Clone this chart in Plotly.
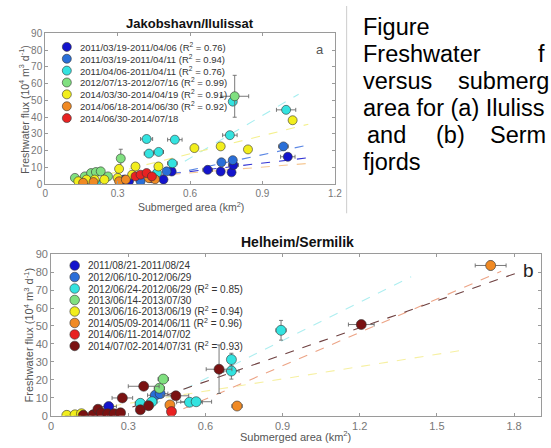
import plotly.graph_objects as go

W, H = 551, 448
FONT = "Liberation Sans, Arial, sans-serif"

# ---------------- Panel a: Jakobshavn/Ilulissat ----------------
a_names = [
    "2011/03/19-2011/04/06 (R<sup>2</sup> = 0.76)",
    "2011/03/19-2011/04/11 (R<sup>2</sup> = 0.94)",
    "2011/04/06-2011/04/11 (R<sup>2</sup> = 0.76)",
    "2012/07/13-2012/07/16 (R<sup>2</sup> = 0.99)",
    "2014/03/30-2014/04/19 (R<sup>2</sup> = 0.91)",
    "2014/06/18-2014/06/30 (R<sup>2</sup> = 0.92)",
    "2014/06/30-2014/07/18",
]
a_colors = ["#1414cc", "#2a6fd8", "#33e3e0", "#80e080", "#f2ee1c", "#f08a24", "#e82222"]

a1_x = [0.327, 0.347, 0.44, 0.49, 0.524, 0.673, 0.727, 0.772, 0.78, 1.005]
a1_y = [2.7, 1.7, 3.5, 2.7, 7.5, 8.5, 7.5, 7.0, 11.4, 16.3]
a1_xerr = [0, 0, 0, 0, 0, 0.02, 0, 0, 0.02, 0.03]
a1_yerr = [0, 0, 0, 0, 0, 0, 0, 0, 0, 0]

a2_x = [0.395, 0.45, 0.503, 0.73, 0.777, 0.987]
a2_y = [1.7, 4.0, 7.6, 13.0, 14.3, 22.5]
a2_xerr = [0, 0, 0, 0, 0, 0.02]
a2_yerr = [0, 0, 0, 0, 0, 0]

a3_x = [0.21, 0.463, 0.527, 0.43, 0.47, 0.42, 0.537, 0.765, 0.777, 0.998]
a3_y = [0.8, 6.6, 12.4, 18.2, 19.2, 26.9, 26.5, 29.2, 49.2, 44.3]
a3_xerr = [0, 0, 0.02, 0.02, 0.02, 0.025, 0.03, 0.03, 0, 0.04]
a3_yerr = [0, 0, 0, 0, 0, 0, 0, 0, 0, 0]

a4_x = [0.123, 0.164, 0.19, 0.21, 0.23, 0.26, 0.313, 0.785]
a4_y = [3.7, 4.6, 6.6, 7.2, 7.6, 4.6, 15.3, 52.4]
a4_xerr = [0, 0, 0, 0, 0, 0, 0, 0.058]
a4_yerr = [0, 0, 0, 0, 0, 0, 5.5, 12.5]

a5_x = [0.137, 0.171, 0.205, 0.245, 0.30, 0.36, 0.306, 0.374, 0.469, 0.618, 0.727, 0.84, 1.025]
a5_y = [1.7, 2.7, 2.7, 2.7, 3.7, 5.6, 9.1, 10.5, 10.5, 21.5, 22.5, 20.7, 38.1]
a5_xerr = [0] * 13
a5_yerr = [0] * 13

a6_x = [0.157, 0.20, 0.306, 0.334, 0.43, 0.455]
a6_y = [0.8, 1.2, 1.7, 2.7, 3.5, 2.9]
a6_xerr = [0] * 6
a6_yerr = [0] * 6

a7_x = [0.374, 0.395, 0.42, 0.442]
a7_y = [4.6, 5.6, 6.6, 4.6]
a7_xerr = [0] * 4
a7_yerr = [0] * 4

# regression lines (slope, intercept, x-start, x-end)
a_fit_slope = [16.8, 30.7, 84.8, None, 36.0, 11.5, None]
a_fit_icpt = [-2.6, -10.1, -35.4, None, -3.5, -0.2, None]
a_fit_x0 = [0.45, 0.45, 0.45, None, 0.13, 0.15, None]
a_fit_x1 = [1.09, 1.09, 1.05, None, 1.09, 1.09, None]
a_fit_colors = ["#3434d4", "#5a86e4", "#a6eef0", None, "#f4f08e", "#f6c894", None]

a_xticks = [0, 0.3, 0.6, 0.9, 1.2]
a_xticklabels = ["0", "0.3", "0.6", "0.9", "1.2"]
a_yticks = [0, 10, 20, 30, 40, 50, 60, 70, 80, 90]
a_yticklabels = ["0", "10", "20", "30", "40", "50", "60", "70", "80", "90"]

# ---------------- Panel b: Helheim/Sermilik ----------------
b_names = [
    "2011/08/21-2011/08/24",
    "2012/06/10-2012/06/29",
    "2012/06/24-2012/06/29 (R<sup>2</sup> = 0.85)",
    "2013/06/14-2013/07/30",
    "2013/06/16-2013/06/19 (R<sup>2</sup> = 0.94)",
    "2014/05/09-2014/06/11 (R<sup>2</sup> = 0.96)",
    "2014/06/11-2014/07/02",
    "2014/07/02-2014/07/31 (R<sup>2</sup> = 0.93)",
]
b_colors = ["#1414cc", "#2a6fd8", "#33e3e0", "#80e080", "#f2ee1c", "#f08a24", "#e82222", "#7a1212"]

b1_x = [0.224]
b1_y = [5.1]
b1_xerr = [0.03]
b1_yerr = [1.5]

b2_x = [0.405, 0.424]
b2_y = [11.4, 12.3]
b2_xerr = [0.03, 0.03]
b2_yerr = [0, 0]

b3_x = [0.347, 0.392, 0.538, 0.564, 0.701, 0.701, 0.894]
b3_y = [6.9, 7.8, 7.5, 7.8, 31.3, 24.9, 47.6]
b3_xerr = [0.02, 0.02, 0.05, 0.06, 0, 0.03, 0.02]
b3_yerr = [0, 0, 0, 0, 3.5, 4.5, 5.5]

b4_x = [0.421, 0.436]
b4_y = [15.3, 20.4]
b4_xerr = [0.02, 0.02]
b4_yerr = [0, 0]

b5_x = [0.061, 0.093, 0.118]
b5_y = [0.2, 0.5, 1.1]
b5_xerr = [0, 0, 0]
b5_yerr = [0, 0, 0]

b6_x = [0.462, 0.723, 1.709]
b6_y = [6.0, 5.4, 83.7]
b6_xerr = [0, 0.02, 0.06]
b6_yerr = [0, 0, 2.5]

b7_x = [0.468]
b7_y = [2.3]
b7_xerr = [0]
b7_yerr = [0]

b8_x = [0.125, 0.163, 0.182, 0.195, 0.22, 0.245, 0.27, 0.277, 0.347, 0.36, 0.379, 0.485, 0.653, 1.206]
b8_y = [0.2, 0.5, 3.6, 1.5, 1.1, 1.1, 1.6, 9.9, 3.3, 16.4, 5.6, 11.1, 25.9, 50.8]
b8_xerr = [0, 0, 0, 0, 0, 0, 0, 0.04, 0, 0.06, 0, 0.05, 0.05, 0.05]
b8_yerr = [0, 0, 0, 0, 0, 0, 0, 0, 0, 0, 0, 0, 13.5, 0]

b_fit_slope = [None, None, 71.0, None, 22.8, 62.0, None, 50.0]
b_fit_icpt = [None, None, -22.0, None, 0.0, -28.0, None, -11.0]
b_fit_x0 = [None, None, 0.33, None, 0.10, 0.45, None, 0.25]
b_fit_x1 = [None, None, 1.40, None, 1.60, 1.75, None, 1.81]
b_fit_colors = [None, None, "#aeeef0", None, "#f6f0a2", "#eca486", None, "#6e4040"]

b_xticks = [0, 0.3, 0.6, 0.9, 1.2, 1.5, 1.8]
b_xticklabels = ["0", "0.3", "0.6", "0.9", "1.2", "1.5", "1.8"]
b_yticks = [0, 10, 20, 30, 40, 50, 60, 70, 80, 90]
b_yticklabels = ["0", "10", "20", "30", "40", "50", "60", "70", "80", "90"]

# caption lines (justified words, cut at the page edge as in the source)
caption_words = [
    ["Figure"],
    ["Freshwater", "f"],
    ["versus", "submerg"],
    ["area for (a) Iluliss"],
    ["and", "(b)", "Serm"],
    ["fjords"],
]

a_series = [(a1_x, a1_y, a1_xerr, a1_yerr), (a2_x, a2_y, a2_xerr, a2_yerr),
            (a3_x, a3_y, a3_xerr, a3_yerr), (a4_x, a4_y, a4_xerr, a4_yerr),
            (a5_x, a5_y, a5_xerr, a5_yerr), (a6_x, a6_y, a6_xerr, a6_yerr),
            (a7_x, a7_y, a7_xerr, a7_yerr)]
b_series = [(b1_x, b1_y, b1_xerr, b1_yerr), (b2_x, b2_y, b2_xerr, b2_yerr),
            (b3_x, b3_y, b3_xerr, b3_yerr), (b4_x, b4_y, b4_xerr, b4_yerr),
            (b5_x, b5_y, b5_xerr, b5_yerr), (b6_x, b6_y, b6_xerr, b6_yerr),
            (b7_x, b7_y, b7_xerr, b7_yerr), (b8_x, b8_y, b8_xerr, b8_yerr)]


def px(x):
    return x / W


def py(y):
    return 1 - y / H


fig = go.Figure()


def add_panel(series, names, colors, slopes, icpts, x0s, x1s, fcolors, xa, ya, msize):
    for m, b, x0, x1, c in zip(slopes, icpts, x0s, x1s, fcolors):
        if m is None:
            continue
        fig.add_trace(go.Scatter(
            x=[x0, x1], y=[m * x0 + b, m * x1 + b], mode="lines",
            line=dict(color=c, width=1.1, dash="dash"),
            xaxis=xa, yaxis=ya, hoverinfo="skip", showlegend=False))
    for (xs, ys, xe, ye), name, col in zip(series, names, colors):
        fig.add_trace(go.Scatter(
            x=xs, y=ys, mode="markers", name=name,
            marker=dict(size=msize, color=col, line=dict(color="#333333", width=0.6)),
            error_x=dict(type="data", array=xe, color="#6a6a6a", thickness=0.9, width=2),
            error_y=dict(type="data", array=ye, color="#6a6a6a", thickness=0.9, width=2),
            xaxis=xa, yaxis=ya, showlegend=False))


add_panel(a_series, a_names, a_colors, a_fit_slope, a_fit_icpt, a_fit_x0, a_fit_x1,
          a_fit_colors, "x", "y", 9)
add_panel(b_series, b_names, b_colors, b_fit_slope, b_fit_icpt, b_fit_x0, b_fit_x1,
          b_fit_colors, "x2", "y2", 10)


def axis(domain, rng, anchor, tv, tt, size):
    return dict(domain=domain, range=rng, anchor=anchor, tickvals=tv, ticktext=tt,
                showline=True, linecolor="#9a9a9a", linewidth=1, mirror="ticks",
                ticks="inside", ticklen=3, tickcolor="#9a9a9a", showgrid=False,
                zeroline=False, tickfont=dict(family=FONT, color="#777777", size=size))


fig.update_layout(
    width=W, height=H, margin=dict(l=0, r=0, t=0, b=0),
    paper_bgcolor="white", plot_bgcolor="white", showlegend=False,
    font=dict(family=FONT, size=10),
    xaxis=axis([px(43), px(338)], [0, 1.2], "y", a_xticks, a_xticklabels, 10),
    yaxis=axis([py(183), py(28)], [0, 90], "x", a_yticks, a_yticklabels, 10),
    xaxis2=axis([px(49), px(548)], [0, 1.905], "y2", b_xticks, b_xticklabels, 11),
    yaxis2=axis([py(421), py(255)], [0, 90], "x2", b_yticks, b_yticklabels, 11),
)

ann = []
shapes = []


def text(x, y, s, size, color="#333333", xanchor="left", angle=0):
    ann.append(dict(x=px(x), y=py(y), xref="paper", yref="paper", text=s, showarrow=False,
                    xanchor=xanchor, yanchor="middle", textangle=angle,
                    font=dict(family=FONT, size=size, color=color)))


# manual legends (compact rows as in the source figure)
for i, (nm, col) in enumerate(zip(a_names, a_colors)):
    cy = 42.0 + 12.2 * i
    shapes.append(dict(type="circle", xref="paper", yref="paper", xsizemode="pixel",
                       ysizemode="pixel", xanchor=px(65), yanchor=py(cy),
                       x0=-4.5, x1=4.5, y0=-4.5, y1=4.5, fillcolor=col,
                       line=dict(color="#333333", width=0.6)))
    text(76, cy, nm, 9.5)
for i, (nm, col) in enumerate(zip(b_names, b_colors)):
    cy = 266.7 + 11.8 * i
    shapes.append(dict(type="circle", xref="paper", yref="paper", xsizemode="pixel",
                       ysizemode="pixel", xanchor=px(73), yanchor=py(cy),
                       x0=-4.8, x1=4.8, y0=-4.8, y1=4.8, fillcolor=col,
                       line=dict(color="#333333", width=0.6)))
    text(85, cy, nm, 10)

# titles / axis titles / panel letters
text(190, 18, "<b>Jakobshavn/Ilulissat</b>", 13, "#111111", "center")
text(300, 243, "<b>Helheim/Sermilik</b>", 14, "#111111", "center")
text(191, 206, "Submerged area (km<sup>2</sup>)", 10.5, "#555555", "center")
text(298, 442, "Submerged area (km<sup>2</sup>)", 11, "#555555", "center")
text(21, 106, "Freshwater flux (10<sup>4</sup> m<sup>3</sup> d<sup>-1</sup>)", 10.5,
     "#555555", "center", -90)
text(26, 338, "Freshwater flux (10<sup>4</sup> m<sup>3</sup> d<sup>-1</sup>)", 11,
     "#555555", "center", -90)
text(323, 45, "a", 13, "#555555", "center")
text(535, 272, "b", 19, "#222222", "center")

# caption at right, justified word placement
cap = 23.5
cap_x = [[365], [365, 542.5], [365, 461], [365], [369, 439, 494], [365]]
for i, (words, xs) in enumerate(zip(caption_words, cap_x)):
    cy = 21.5 + 27.7 * i
    for w, x in zip(words, xs):
        text(x, cy, w, cap, "#000000")

# frame line of the upper figure
shapes.append(dict(type="line", xref="paper", yref="paper", x0=px(350), x1=px(350),
                   y0=py(0), y1=py(213), line=dict(color="#cccccc", width=1)))

fig.update_layout(annotations=ann, shapes=shapes)
fig.write_html("out.html")
